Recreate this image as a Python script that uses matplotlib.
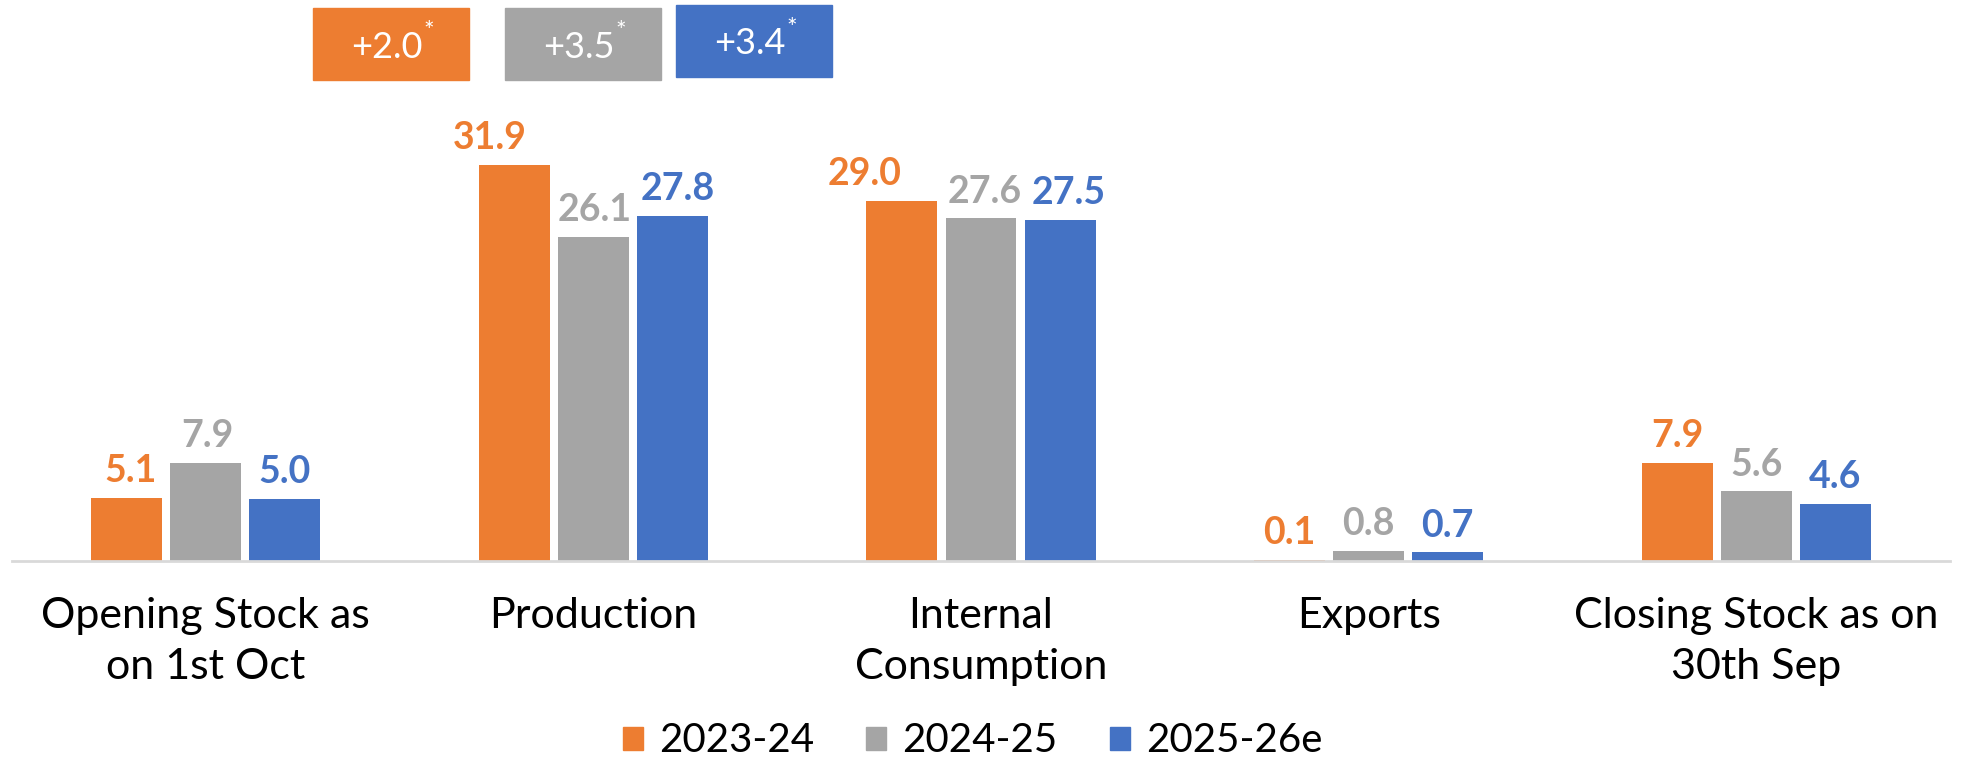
import numpy as np
import matplotlib.pyplot as plt
from matplotlib.patches import Rectangle, Patch

plt.rcParams['font.family'] = ['Lato', 'DejaVu Sans']

# Data
categories = ['Opening Stock as\non 1st Oct', 'Production', 'Internal\nConsumption',
              'Exports', 'Closing Stock as on\n30th Sep']
seasons = ['2023-24', '2024-25', '2025-26e']
v_2023 = [5.1, 31.9, 29.0, 0.1, 7.9]
v_2024 = [7.9, 26.1, 27.6, 0.8, 5.6]
v_2025 = [5.0, 27.8, 27.5, 0.7, 4.6]
box_labels = ['+2.0', '+3.5', '+3.4']

colors = ['#ED7D31', '#A5A5A5', '#4472C4']
series = [v_2023, v_2024, v_2025]
# small horizontal nudges of the value labels (points), as in the original
nudge = [[3, -18, -27, 0, 0], [1, 1, 3, 0, 0], [0, 4, 6, 0, 0]]

W, H = 1961, 759
fig = plt.figure(figsize=(W / 100, H / 100), dpi=100)
ax = fig.add_axes([12 / W, (H - 561) / H, (1950 - 12) / W, (561 - 114) / H])

x = np.arange(len(categories))
bw = 0.183
step = 0.204
for i, (vals, c) in enumerate(zip(series, colors)):
    pos = x + (i - 1) * step
    ax.bar(pos, vals, width=bw, color=c, label=seasons[i])
    for px, v, dx in zip(pos, vals, nudge[i]):
        ax.annotate(f'{v:.1f}', (px, v), xytext=(dx, 7), textcoords='offset points',
                    ha='center', va='bottom', color=c, fontsize=27, fontweight='bold')

ax.set_xlim(-0.5, 4.5)
ax.set_ylim(0, 36)
ax.set_yticks([])
ax.set_xticks(x)
ax.set_xticklabels(categories, fontsize=31, linespacing=1.4)
ax.tick_params(axis='x', length=0, pad=26)
for s in ['top', 'right', 'left']:
    ax.spines[s].set_visible(False)
ax.spines['bottom'].set_color('#D9D9D9')
ax.spines['bottom'].set_linewidth(2)

# Growth boxes at the top
box_x = [313, 505, 676]
box_y = [8, 8, 5]
for bx, by, lab, c in zip(box_x, box_y, box_labels, colors):
    fig.patches.append(Rectangle((bx / W, 1 - (by + 72) / H), 156 / W, 72 / H,
                                 transform=fig.transFigure, color=c))
    cx = (bx + 74) / W
    cy = 1 - (by + 39) / H
    fig.text(cx, cy, lab, color='white', fontsize=26, ha='center', va='center')
    fig.text(cx + 42 / W, cy + 16 / H, '*', color='white', fontsize=18,
             ha='center', va='center')

handles = [Patch(color=c) for c in colors]
fig.legend(handles, seasons, loc='center', bbox_to_anchor=(0.496, 1 - 741 / H),
           ncol=3, frameon=False, fontsize=29, handlelength=0.5, handleheight=0.5,
           handletextpad=0.4, columnspacing=1.3)

fig.savefig('out.png', dpi=100)
